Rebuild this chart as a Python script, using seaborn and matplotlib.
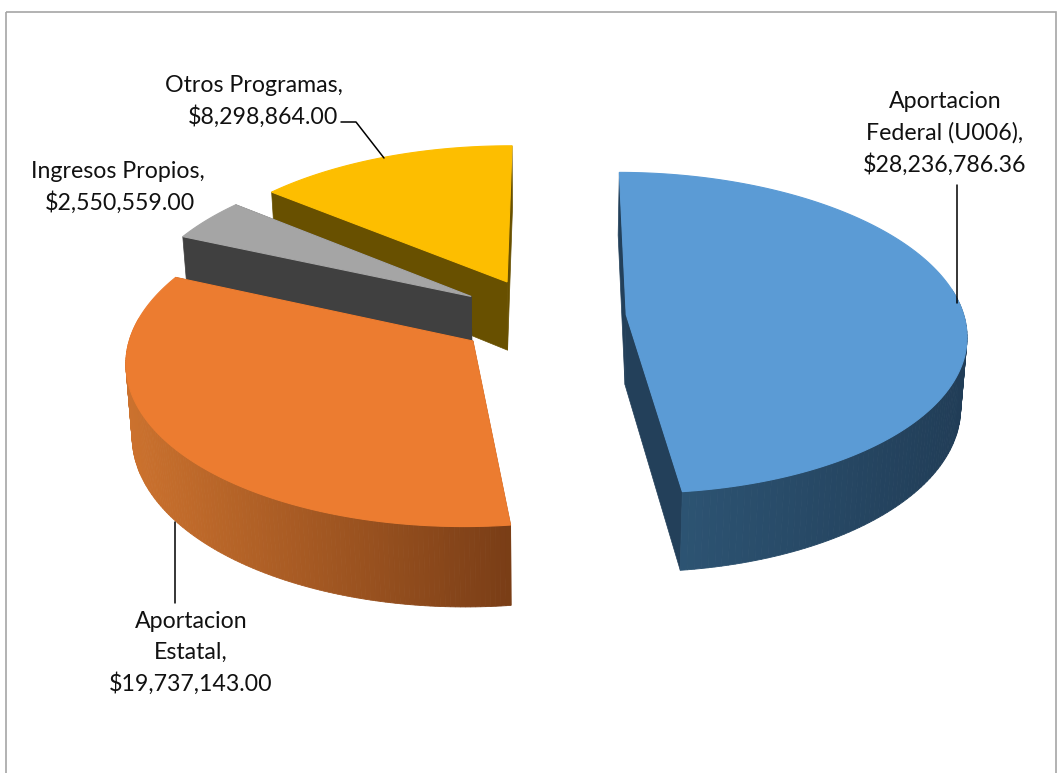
import numpy as np
import matplotlib
matplotlib.use("Agg")
import matplotlib.pyplot as plt
import seaborn as sns
from matplotlib.colors import to_rgb
from matplotlib.patches import Polygon, Rectangle

categories = ["Aportacion Federal (U006)", "Aportacion Estatal", "Ingresos Propios", "Otros Programas"]
amounts = [28236786.36, 19737143.00, 2550559.00, 8298864.00]
explode = [0.25, 0.25, 0.25, 0.25]
label_lines = [
    ["Aportacion", "Federal (U006),", "$28,236,786.36"],
    ["Aportacion", "Estatal,", "$19,737,143.00"],
    ["Ingresos Propios,", "$2,550,559.00"],
    ["Otros Programas,", "$8,298,864.00"],
]

top_colors = ["#5B9BD5", "#EC7C30", "#A5A5A5", "#FDBE00"]
wall_left = ["#2F5878", "#CC722E", "#3F3F3F", "#685000"]
wall_right = ["#213D57", "#793D16", "#3F3F3F", "#685000"]
face_colors = ["#23405A", "#793D16", "#404040", "#685000"]

# projection of the flat pie into the picture, pixels
CX, CY = 542, 317
R = 338
K = 0.47
TILT = 0.1125
DEPTH = 70
SHRINK = 0.985


def project(u, v, low=False):
    p = 1 / (1 + TILT * v)
    x = CX + R * u * p
    y = CY - R * K * v * p
    if low:
        x = CX + (x - CX) * SHRINK
        y = y + DEPTH * p
    return x, y


def mix(c1, c2, t):
    a, b = np.array(to_rgb(c1)), np.array(to_rgb(c2))
    return tuple(a + (b - a) * t)


sns.set_theme(style="white")
plt.rcParams["font.family"] = ["Lato", "DejaVu Sans"]

fig, ax = plt.subplots(figsize=(10.62, 7.73), dpi=100)
wedges, _ = ax.pie(amounts, explode=explode, startangle=89.7, counterclock=False, radius=1)
shapes = [(w.center, w.theta1, w.theta2) for w in wedges]
for w in wedges:
    w.remove()

ax.set_position([0, 0, 1, 1])
ax.set_aspect("auto")
ax.set_xlim(0, 1062)
ax.set_ylim(773, 0)
ax.axis("off")

ax.add_patch(Rectangle((6, 12), 1050, 800, fill=False, edgecolor="#A6A6A6", lw=1.2, clip_on=True))

# back to front: yellow, grey, orange, blue
for i in [3, 2, 1, 0]:
    (cu, cv), t1, t2 = shapes[i]
    th = np.radians(np.linspace(t1, t2, 160))
    rim_u, rim_v = cu + np.cos(th), cv + np.sin(th)
    top_x, top_y = project(rim_u, rim_v)
    low_x, low_y = project(rim_u, rim_v, low=True)
    ax_, ay_ = project(cu, cv)
    bx_, by_ = project(cu, cv, low=True)

    # radial faces
    for j in [0, -1]:
        ax.add_patch(Polygon([(ax_, ay_), (top_x[j], top_y[j]), (low_x[j], low_y[j]), (bx_, by_)],
                             closed=True, fc=face_colors[i], ec=face_colors[i], lw=0.5))

    # outer wall with a left to right gradient
    lo, hi = top_x.min(), top_x.max()
    for k in range(len(th) - 1):
        if rim_v[k] - cv > 0.15:
            continue
        shade = mix(wall_left[i], wall_right[i], ((top_x[k] - lo) / (hi - lo)))
        ax.add_patch(Polygon([(top_x[k], top_y[k]), (top_x[k + 1], top_y[k + 1]),
                              (low_x[k + 1], low_y[k + 1]), (low_x[k], low_y[k])],
                             closed=True, fc=shade, ec=shade, lw=0.6))

    # top surface
    ax.add_patch(Polygon(np.vstack([[ax_, ay_], np.column_stack([top_x, top_y])]),
                         closed=True, fc=top_colors[i], ec=top_colors[i], lw=0.8))

# leader lines
ax.plot([957, 957], [185, 303], color="black", lw=1.1)
ax.plot([175, 175], [522, 603], color="black", lw=1.1)
ax.plot([341, 356, 384], [122, 122, 158], color="black", lw=1.1)

label_pos = [
    [(945, 101), (945, 133), (945, 165)],
    [(191, 621), (191, 652), (191, 684)],
    [(118, 172), (120, 203)],
    [(254, 85), (263, 117)],
]
for lines, spots in zip(label_lines, label_pos):
    for line, (lx, ly) in zip(lines, spots):
        ax.text(lx, ly, line, ha="center", va="center", fontsize=16.7, color="#111111")

fig.savefig("out.png", dpi=100)
